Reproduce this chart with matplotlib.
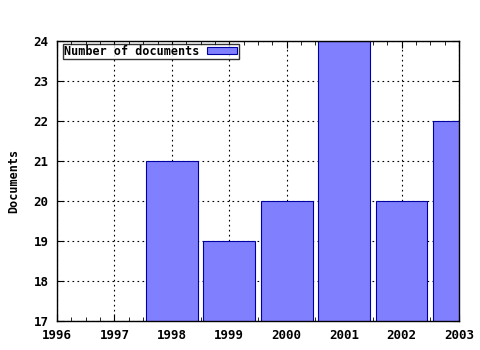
import matplotlib
matplotlib.use("Agg")
import matplotlib.pyplot as plt
from matplotlib.ticker import MultipleLocator

years = [1996, 1997, 1998, 1999, 2000, 2001, 2002, 2003]
docs = [0, 0, 21, 19, 20, 24, 20, 22]

plt.rcParams['font.family'] = ['DejaVu Sans Mono']
plt.rcParams['font.weight'] = 'bold'

fig = plt.figure(figsize=(4.8, 3.5), dpi=100)
ax = fig.add_axes([0.11875, 0.0829, 0.8375, 0.80])

ax.bar(years, docs, width=0.9, color='#8080ff', edgecolor='#0000a0',
       linewidth=0.8, label='Number of documents', zorder=2)

ax.set_xlim(1996, 2003)
ax.set_ylim(17, 24)
ax.set_xticks(years)
ax.xaxis.set_minor_locator(MultipleLocator(0.25))
ax.grid(True, which='major', color='black', linestyle=(0, (1.5, 3)), linewidth=0.8, zorder=1)
ax.tick_params(axis='both', which='both', direction='in', top=True, right=True,
               labelsize=9, pad=6)
ax.tick_params(which='major', length=5)
ax.tick_params(which='minor', length=3)
for s in ax.spines.values():
    s.set_linewidth(1)
    s.set_zorder(3)

ax.set_ylabel('Documents', fontsize=8.5, fontweight='bold', labelpad=10)

leg = ax.legend(loc='upper left', bbox_to_anchor=(0.015, 0.99), fontsize=8.5,
                frameon=True, fancybox=False, markerfirst=False,
                borderpad=0.1, handlelength=2.6, handleheight=0.55,
                handletextpad=0.6, borderaxespad=0.0)
leg.get_frame().set_edgecolor('black')
leg.get_frame().set_linewidth(1)

fig.savefig('out.png', dpi=100)
